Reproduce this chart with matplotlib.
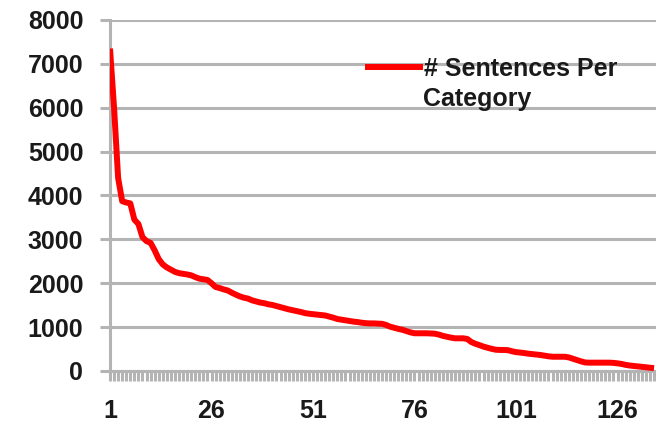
import numpy as np
import matplotlib.pyplot as plt

# sentences per category, sorted descending
counts = [7350, 6000, 4400, 3870, 3840, 3820, 3450, 3350, 3050, 2960,
          2920, 2750, 2550, 2430, 2360, 2310, 2260, 2230, 2215, 2200,
          2180, 2140, 2105, 2090, 2075, 2000, 1915, 1890, 1860, 1835,
          1785, 1740, 1700, 1670, 1650, 1610, 1585, 1560, 1545, 1520,
          1505, 1480, 1455, 1430, 1405, 1385, 1365, 1345, 1320, 1305,
          1295, 1285, 1275, 1265, 1240, 1215, 1185, 1170, 1155, 1140,
          1125, 1115, 1100, 1090, 1085, 1085, 1080, 1075, 1050, 1010,
          985, 960, 940, 910, 880, 860, 860, 860, 860, 855,
          850, 830, 800, 780, 760, 745, 745, 745, 730, 660,
          620, 590, 555, 530, 505, 485, 480, 480, 475, 450,
          430, 420, 410, 395, 385, 375, 365, 350, 335, 325,
          325, 325, 325, 310, 280, 250, 220, 195, 190, 190,
          190, 190, 190, 190, 185, 175, 160, 140, 125, 115,
          105, 95, 85, 75, 65]
categories = np.arange(1, len(counts) + 1)
xtick_labels = [1, 26, 51, 76, 101, 126]
ytick_labels = [0, 1000, 2000, 3000, 4000, 5000, 6000, 7000, 8000]
legend_lines = ['# Sentences Per', 'Category']

grey = '#b4b4b4'
txt = '#1a1a1a'

fig = plt.figure(figsize=(6.56, 4.24), dpi=100)
ax = fig.add_axes([110/656, 53/424, 546/656, 351/424])

ax.plot(categories, counts, color='#ff0000', lw=4.3, solid_capstyle='butt',
        label=legend_lines[0], zorder=3)

ax.set_ylim(0, 8000)
ax.set_xlim(1, 1 + 546/4.06)
ax.set_yticks(ytick_labels)
ax.set_xticks(xtick_labels)
ax.set_xticks(categories, minor=True)
ax.yaxis.grid(True, color=grey, lw=2.2)
ax.set_axisbelow(True)

for s in ['top', 'right']:
    ax.spines[s].set_visible(False)
for s in ['left', 'bottom']:
    ax.spines[s].set_color(grey)
    ax.spines[s].set_linewidth(2.2)

ax.tick_params(axis='y', length=7.2, width=2.2, color=grey, pad=12,
               labelsize=18, labelcolor=txt)
ax.tick_params(axis='x', which='major', length=7.2, width=2.2, color=grey,
               pad=13, labelsize=18, labelcolor=txt)
ax.tick_params(axis='x', which='minor', length=7.2, width=2.2, color=grey)
for lab in ax.get_xticklabels() + ax.get_yticklabels():
    lab.set_fontfamily('Liberation Sans')
    lab.set_fontweight('bold')

leg = fig.legend(loc='upper left', bbox_to_anchor=(365/656, 1 - 57/424),
                 frameon=False, handlelength=2.3, handletextpad=0.05,
                 borderpad=0, borderaxespad=0,
                 prop={'family': 'Liberation Sans', 'size': 18, 'weight': 'bold'})
for t in leg.get_texts():
    t.set_color(txt)
fig.text(423/656, 1 - 106/424, legend_lines[1], color=txt, fontsize=18,
         fontweight='bold', family='Liberation Sans', va='baseline', ha='left')

fig.savefig('out.png', dpi=100)
